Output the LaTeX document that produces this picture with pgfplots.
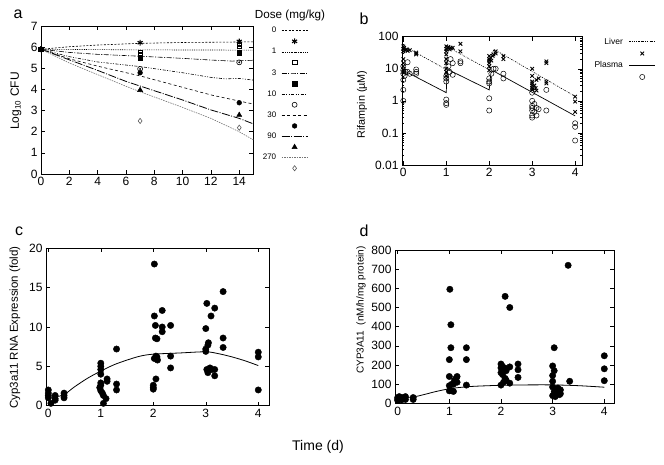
\documentclass[border=0pt]{standalone}
\usepackage{fontspec}
\setmainfont{Liberation Sans}
\usepackage{pgfplots}
\pgfplotsset{compat=1.18}
\tikzset{
 d0/.style={line width=0.6pt, dash pattern=on 2pt off 1.5pt},
 d1/.style={line width=0.6pt, dash pattern=on 0.8pt off 1pt},
 d3/.style={line width=0.6pt, dash pattern=on 5pt off 1.5pt on 1pt off 1.5pt},
 d10/.style={line width=0.6pt, dash pattern=on 3pt off 1.5pt on 1pt off 1.5pt on 1pt off 1.5pt},
 d30/.style={line width=0.6pt, dash pattern=on 3pt off 2.5pt},
 d90/.style={line width=0.8pt, dash pattern=on 8pt off 1.5pt on 1pt off 1.5pt},
 d270/.style={line width=0.6pt, black!55, dash pattern=on 1.5pt off 1pt},
 m0/.style={mark=asterisk, mark size=2.9pt, line width=1.1pt},
 m1/.style={mark=square, mark size=2.3pt, line width=0.6pt},
 m3/.style={mark=square*, mark size=2.3pt},
 m10/.style={mark=o, mark size=2.5pt, line width=0.6pt},
 m30/.style={mark=*, mark size=2.4pt},
 m90/.style={mark=triangle*, mark size=3pt},
 m270/.style={mark=diamond, mark size=2.6pt, line width=0.6pt, black!65},
}
\pgfplotsset{
  every axis/.append style={
    scale only axis, clip=false,
    axis line style={line width=0.6pt, black},
    every tick/.style={black, line width=0.5pt},
    major tick length=4pt, minor tick length=2.2pt,
    tick align=inside,
    tick label style={font=\fontsize{12}{14}\selectfont},
    /pgf/number format/assume math mode=true,
  },
}
\begin{document}
\begin{tikzpicture}[x=1pt,y=1pt]
\useasboundingbox (0pt,0pt) rectangle (664pt,464pt);
% ---------------- panel a
\begin{axis}[at={(41pt,290pt)}, anchor=south west, width=212.4pt, height=148pt,
  xmin=0, xmax=15, ymin=0, ymax=7, xtick={0,2,...,14}, ytick={0,...,7},
  legend image code/.code={\draw[mark repeat=2,mark phase=2,#1] plot coordinates {(0pt,0pt) (13pt,0pt) (26pt,0pt)};},
  legend plot pos=right, legend cell align=right,
  legend style={at={(axis description cs:1.258,1.0)}, anchor=north east, draw=none, fill=none, inner sep=0pt,
     font=\fontsize{8}{9}\selectfont, row sep=1.5pt, column sep=4pt, nodes={inner sep=1pt}},
]
\addlegendimage{black, d0}\addlegendentry{0}
\addlegendimage{black, only marks, m0}\addlegendentry{\phantom{0}}
\addlegendimage{black, d1}\addlegendentry{1}
\addlegendimage{black, only marks, m1}\addlegendentry{\phantom{0}}
\addlegendimage{black, d3}\addlegendentry{3}
\addlegendimage{black, only marks, m3}\addlegendentry{\phantom{0}}
\addlegendimage{black, d10}\addlegendentry{10}
\addlegendimage{black, only marks, m10}\addlegendentry{\phantom{0}}
\addlegendimage{black, d30}\addlegendentry{30}
\addlegendimage{black, only marks, m30}\addlegendentry{\phantom{0}}
\addlegendimage{black, d90}\addlegendentry{90}
\addlegendimage{black, only marks, m90}\addlegendentry{\phantom{0}}
\addlegendimage{d270}\addlegendentry{270}
\addlegendimage{only marks, m270}\addlegendentry{\phantom{0}}
% lines
\addplot[black, d0, forget plot] coordinates {(0,5.9) (2,6.02) (4,6.1) (7,6.18) (10,6.22) (15,6.25)};
\addplot[black, d1, forget plot] coordinates {(0,5.9) (7,5.87) (15,5.86)};
\addplot[black, d3, forget plot] coordinates {(0,5.9) (2,5.75) (4,5.66) (7,5.57) (10,5.47) (12,5.39) (13.5,5.34) (15,5.38)};
\addplot[black, d10, forget plot] coordinates {(0,5.9) (2,5.55) (4,5.3) (7,5.08) (10,4.79) (12,4.57) (13,4.5) (14,4.52) (15,4.44)};
\addplot[black, d30, forget plot] coordinates {(0,5.9) (2,5.45) (4,5.1) (7,4.64) (10,4.1) (12,3.74) (14,3.45) (15,3.31)};
\addplot[black, d90, forget plot] coordinates {(0,5.9) (2,5.4) (4,4.9) (6,4.38) (7,4.16) (10,3.5) (12,3.03) (14,2.63) (15,2.37)};
\addplot[d270, forget plot] coordinates {(0,5.9) (2,5.25) (4,4.7) (6,4.15) (7,3.89) (10,3.15) (12,2.63) (14,2.0) (15,1.61)};
% markers
\addplot[black, only marks, m270, forget plot] coordinates {(0,5.9) (7,2.51) (14,2.19)};
\addplot[black, only marks, m90, forget plot] coordinates {(0,5.9) (7,3.97) (14,2.79)};
\addplot[black, only marks, m30, forget plot] coordinates {(0,5.9) (7,4.79) (14,3.37)};
\addplot[black, only marks, m10, forget plot] coordinates {(0,5.9) (7,4.97) (14,5.28)};
\addplot[black, only marks, mark=*, mark size=0.7pt, forget plot] coordinates {(7,4.97) (14,5.28)};
\addplot[black, only marks, m3, forget plot] coordinates {(0,5.9) (7,5.47) (14,5.75)};
\addplot[black, only marks, m1, forget plot] coordinates {(0,5.9) (7,5.74) (14,6.07)};
\addplot[black, only marks, mark=square*, mark size=0.7pt, forget plot] coordinates {(7,5.74) (14,6.07)};
\addplot[black, only marks, m0, forget plot] coordinates {(0,5.9) (7,6.21) (14,6.27)};
\end{axis}
% ---------------- panel b
\begin{axis}[at={(402pt,299pt)}, anchor=south west, width=180pt, height=128.3pt,
  xmin=-0.03, xmax=4.16, ymode=log, ymin=0.01, ymax=100,
  xtick={0,...,4}, ytick={0.01,0.1,1,10,100}, yticklabels={0.01,0.1,1,10,100},
  minor ytick={0.02,0.03,0.04,0.05,0.06,0.07,0.08,0.09,0.2,0.3,0.4,0.5,0.6,0.7,0.8,0.9,2,3,4,5,6,7,8,9,20,30,40,50,60,70,80,90},
  legend image code/.code={\draw[mark repeat=2,mark phase=2,#1] plot coordinates {(0pt,0pt) (13pt,0pt) (26pt,0pt)};},
  legend plot pos=right, legend cell align=right,
  legend style={at={(axis description cs:1.41,1.0)}, anchor=north east, draw=none, fill=none, inner sep=0pt,
     font=\fontsize{8.5}{9}\selectfont, row sep=2.2pt, column sep=5pt, nodes={inner sep=1pt}},
]
\addlegendimage{black, line width=0.6pt, dash pattern=on 1.5pt off 1.2pt on 0.5pt off 1.2pt}\addlegendentry{Liver}
\addlegendimage{black, only marks, mark=x, mark size=2.5pt, line width=0.9pt}\addlegendentry{\phantom{0}}
\addlegendimage{black, line width=0.7pt}\addlegendentry{Plasma}
\addlegendimage{black, only marks, mark=o, mark size=2.6pt, line width=0.5pt}\addlegendentry{\phantom{0}}
\addplot[black, line width=0.6pt, dash pattern=on 1.5pt off 1.2pt on 0.5pt off 1.2pt, forget plot] coordinates {
 (0.03,50) (1,9.5) (1.02,45) (1.04,47) (2,9.3) (2.05,30) (2.12,40) (4,1.38)};
\addplot[black, line width=0.7pt, forget plot] coordinates {
 (0.03,8.5) (1,1.8) (1.02,8.5) (1.05,9.3) (2,2.2) (2.04,7.5) (2.1,8.5) (4,0.34)};
\addplot[black, only marks, mark=o, mark size=2.6pt, line width=0.5pt, forget plot] coordinates {
 (0,1.0) (0,2.2) (0,4.5) (0,7) (0,9) (0,12) (0.03,6) (0.05,8) (0.1,16) (0.1,8) (0.15,7) (0.3,9.5) (0.3,8) (0.3,7)
 (1,1.1) (1,0.85) (1,0.75) (1,4) (1,5) (1,6) (1.05,12) (1.08,8) (1.1,20) (1.15,15) (1.15,6.5) (1.33,17) (1.33,15)
 (2,1.2) (2,0.5) (2,4) (2,5) (2,3.5) (2.05,7) (2.1,10) (2.15,10) (2.33,7) (2.33,5)
 (3,1.8) (3,1.0) (3,0.7) (3,0.6) (3,0.5) (3,0.35) (3,0.3) (3.05,0.8) (3.05,0.45) (3.1,0.6) (3.1,0.35) (3.15,0.55) (3.33,2.2) (3.33,0.5)
 (4,0.2) (4,0.155) (4,0.058)};
\addplot[black, only marks, mark=x, mark size=2.5pt, line width=0.9pt, forget plot] coordinates {
 (0,50) (0,42) (0,35) (0,20) (0,15) (0,12) (0,8) (0.02,45) (0.05,38) (0.08,40) (0.1,36) (0.15,38) (0.3,32) (0.3,28) (0.3,30)
 (1,50) (1,42) (1,35) (1,28) (1,20) (1,15) (1,10) (1,8) (1,6) (1.03,45) (1.05,48) (1.08,40) (1.1,45) (1.15,45) (1.33,60) (1.33,35)
 (2,25) (2,20) (2,18) (2,15) (2,12) (2,9) (2.03,22) (2.05,18) (2.08,25) (2.1,28) (2.15,35) (2.15,30) (2.33,25) (2.33,20)
 (3,10) (3,6) (3,4) (3,3.5) (3,3) (3,2.5) (3,2.2) (3.05,3) (3.08,2.5) (3.1,4.5) (3.1,2.1) (3.15,5) (3.33,17) (3.33,15) (3.33,4) (3.33,3.5)
 (4,1.35) (4,0.95) (4,0.45)};
\end{axis}
% ---------------- panel c
\begin{axis}[at={(46pt,58.3pt)}, anchor=south west, width=223.3pt, height=157.4pt,
  xmin=-0.044, xmax=4.21, ymin=0, ymax=20, xtick={0,...,4}, ytick={0,5,...,20}]
\addplot[black, line width=0.8pt, smooth] coordinates {
 (0,1.1) (0.15,1.15) (0.3,1.4) (0.5,2.4) (0.75,3.5) (1,4.4) (1.25,5.2) (1.5,5.8) (1.75,6.3) (2,6.55) (2.5,6.7) (3,6.85) (3.25,6.6) (3.5,6.2) (3.75,5.7) (4,5.1)};
\addplot[black, only marks, mark=*, mark size=3.2pt] coordinates {
 (0,2.0) (0,1.6) (0,1.3) (0,1.0) (0.05,0.3) (0.13,1.3) (0.13,0.9) (0.13,0.7) (0.3,1.6) (0.3,1.3) (0.3,1.0)
 (1,5.4) (1,5.0) (1,4.6) (1,4.0) (1,2.9) (1,2.6) (0.98,2.3) (1,1.9) (1.03,1.6) (1.05,1.3) (1.05,0.3) (1.1,0.9) (1.12,3.4) (1.12,3.1) (1.3,7.2) (1.3,2.75) (1.3,2.0)
 (2.02,18.0) (2.02,11.4) (2.04,10.2) (2.04,8.6) (2.07,8.5) (2.05,6.3) (2.02,6.0) (2.07,6.2) (2.08,5.8) (2.05,3.4) (2,2.6) (2,2.3) (2,2.1) (2.17,12.1) (2.17,10.0) (2.17,9.4) (2.33,10.2) (2.33,6.3) (2.33,4.8)
 (3.02,13.0) (3,9.8) (3.05,8.0) (3.04,7.7) (3,7.2) (3,6.9) (3.02,4.6) (3.04,4.2) (3.08,4.8) (3.12,4.6) (3.1,11.4) (3.17,12.4) (3.17,4.6) (3.17,3.8) (3.33,14.5) (3.33,8.6) (3.33,7.4)
 (4,6.8) (4,6.2) (4,2.0)};
\end{axis}
% ---------------- panel d
\begin{axis}[at={(395pt,60.7pt)}, anchor=south west, width=219pt, height=153.3pt,
  xmin=-0.052, xmax=4.188, ymin=0, ymax=800, xtick={0,...,4}, ytick={0,100,...,800}]
\addplot[black, line width=0.8pt, smooth] coordinates {
 (0,28) (0.3,33) (0.5,45) (0.75,62) (1,76) (1.25,84) (1.5,89) (2,94) (2.5,96) (3,96) (3.5,92) (4,84)};
\addplot[black, only marks, mark=*, mark size=3.2pt] coordinates {
 (0,30) (0,22) (0,15) (0.03,35) (0.05,25) (0.07,18) (0.1,30) (0.1,22) (0.13,28) (0.15,35) (0.15,20) (0.3,30) (0.3,20)
 (1.01,595) (1.03,410) (1.03,290) (1,228) (1,140) (1.05,100) (1,92) (1,65) (1.08,62) (1.05,65) (1.1,120) (1.15,140) (1.13,130) (1.15,110) (1.08,100) (1.33,290) (1.33,228) (1.33,95)
 (2.08,558) (2.17,500) (2,205) (2.02,195) (2,185) (2.05,175) (2,160) (2.03,150) (2.08,130) (2.1,120) (2.05,110) (2,95) (2.17,105) (2.17,190) (2.33,205) (2.33,175) (2.33,135) (2.1,170) (2.07,185)
 (3.03,290) (3,195) (3.03,170) (3,145) (3,115) (3,85) (3.05,75) (3.08,65) (3.1,55) (3.13,45) (3.05,35) (3,40) (3.1,80) (3.15,70) (3.15,50) (3.03,60) (3.3,720) (3.33,115)
 (4,248) (4,180) (4,118)};
\end{axis}
% ---------------- text
\node[font=\fontsize{16}{18}\selectfont] at (18pt,450pt) {a};
\node[font=\fontsize{16}{18}\selectfont] at (364pt,445pt) {b};
\node[font=\fontsize{16}{18}\selectfont] at (19pt,233pt) {c};
\node[font=\fontsize{16}{18}\selectfont] at (364pt,233pt) {d};
\node[font=\fontsize{11.7}{13}\selectfont] at (290pt,449pt) {Dose (mg/kg)};
\node[rotate=90, font=\fontsize{12}{14}\selectfont] at (16pt,363pt) {Log\textsubscript{10} CFU};
\node[rotate=90, font=\fontsize{10.8}{12}\selectfont] at (362pt,359.5pt) {Rifampin (µM)};
\node[rotate=90, font=\fontsize{11.5}{13}\selectfont] at (15pt,136.5pt) {Cyp3a11 RNA Expression (fold)};
\node[rotate=90, font=\fontsize{10}{12}\selectfont] at (361pt,154pt) {CYP3A11 \ (nM/h/mg protein)};
\node[font=\fontsize{14}{16}\selectfont] at (318pt,17pt) {Time (d)};
\end{tikzpicture}
\end{document}
